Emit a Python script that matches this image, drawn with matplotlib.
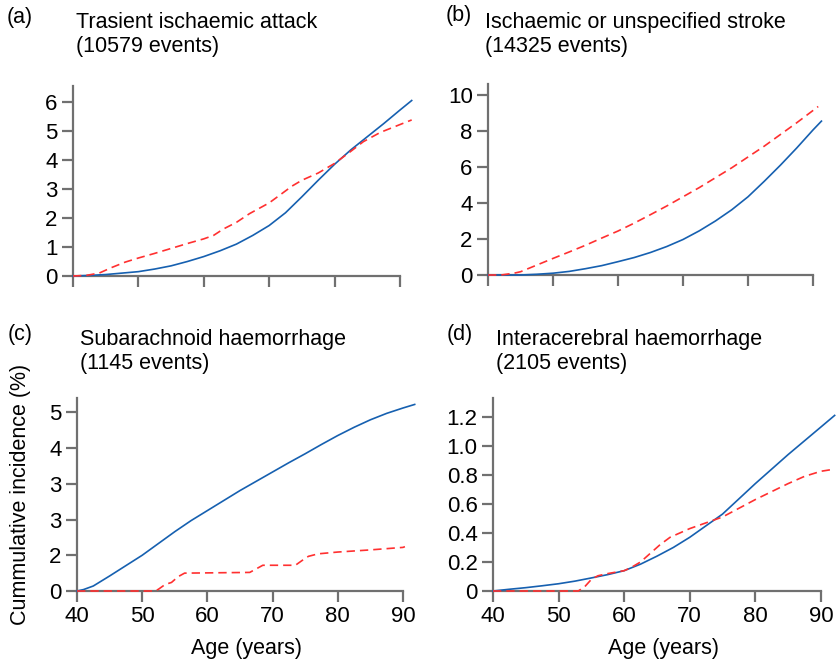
import matplotlib
matplotlib.use("Agg")
import matplotlib.pyplot as plt

plt.rcParams["font.family"] = ["Liberation Sans", "DejaVu Sans"]

# (a) Trasient ischaemic attack
a_blue_x = [40, 42.5, 45, 47.5, 50, 52.5, 55, 57.5, 60, 62.5, 65, 67.5, 70, 72.5, 75,
            77.5, 80, 82.5, 85, 87.5, 90, 91.8]
a_blue_y = [0, 0.02, 0.05, 0.1, 0.15, 0.24, 0.35, 0.5, 0.67, 0.87, 1.1, 1.40, 1.74, 2.18, 2.73,
            3.3, 3.85, 4.35, 4.8, 5.25, 5.72, 6.05]
a_red_x = [40, 42, 44, 46, 48, 50, 52.5, 55, 57.5, 60, 61.5, 63, 65, 67, 70, 72, 73.5, 75,
           77.5, 80, 82.5, 84.4, 87, 90, 91.8]
a_red_y = [0, 0.02, 0.1, 0.3, 0.48, 0.62, 0.78, 0.95, 1.12, 1.28, 1.40, 1.62, 1.85, 2.15, 2.52,
           2.85, 3.1, 3.3, 3.55, 3.88, 4.3, 4.63, 4.95, 5.22, 5.38]

# (b) Ischaemic or unspecified stroke
b_blue_x = [40, 45, 47.5, 50, 52.5, 55, 57.5, 60, 62.5, 65, 67.5, 70, 72.5, 75, 77.5, 80,
            82.5, 85, 87.5, 90, 91.3]
b_blue_y = [0, 0, 0.04, 0.1, 0.2, 0.35, 0.52, 0.74, 0.97, 1.25, 1.58, 1.97, 2.45, 3.0, 3.62, 4.34,
            5.2, 6.1, 7.05, 8.05, 8.54]
b_red_x = [40, 42, 44, 45, 47.5, 50, 52.5, 55, 57.5, 60, 62.5, 65, 67.5, 70, 72.5, 75, 77.5,
           80, 82.5, 85, 87.5, 90, 90.8]
b_red_y = [0, 0, 0.1, 0.18, 0.55, 0.92, 1.28, 1.65, 2.05, 2.44, 2.88, 3.35, 3.83, 4.34, 4.85, 5.4,
           5.95, 6.55, 7.15, 7.8, 8.45, 9.13, 9.35]

# (c) Subarachnoid haemorrhage (tick labels as printed in the source)
c_blue_x = [40, 41, 42.5, 45, 47.5, 50, 52.5, 55, 57.5, 60, 62.5, 65, 67.5, 70, 72.5, 75,
            77.5, 80, 82.5, 85, 87.5, 90, 91.8]
c_blue_y = [0, 0.04, 0.14, 0.42, 0.71, 1.0, 1.33, 1.66, 1.97, 2.25, 2.53, 2.81, 3.07, 3.33, 3.59,
            3.84, 4.1, 4.35, 4.58, 4.79, 4.97, 5.12, 5.22]
c_red_x = [40, 52, 52.5, 53.5, 54.5, 55.5, 56.5, 66.5, 67.5, 68.5, 73.5, 74.5, 75.5, 77, 80,
           85, 90, 90.3]
c_red_y = [0, 0, 0.05, 0.18, 0.24, 0.4, 0.5, 0.52, 0.62, 0.72, 0.72, 0.85, 0.97, 1.04, 1.09,
           1.15, 1.22, 1.24]
c_ticklabels = ["0", "2", "3", "3", "4", "5"]

# (d) Interacerebral haemorrhage
d_blue_x = [40, 42.5, 45, 47.5, 50, 52.5, 55, 57.5, 60, 62.5, 65, 67.5, 70, 72.5, 75, 77.5,
            80, 82.5, 85, 87.5, 90, 92.1]
d_blue_y = [0, 0.012, 0.023, 0.036, 0.05, 0.068, 0.09, 0.113, 0.14, 0.185, 0.24, 0.3, 0.37,
            0.45, 0.53, 0.635, 0.74, 0.84, 0.94, 1.035, 1.13, 1.21]
d_red_x = [40, 53, 54, 55, 56, 57.5, 60, 61, 62.5, 64, 65.5, 67, 68.5, 70, 72.5, 75, 77.5,
           80, 82.5, 85, 87.5, 90, 92.1]
d_red_y = [0, 0, 0.03, 0.08, 0.105, 0.12, 0.14, 0.16, 0.2, 0.26, 0.32, 0.37, 0.4, 0.43, 0.47,
           0.51, 0.57, 0.63, 0.685, 0.74, 0.79, 0.825, 0.84]
d_ticklabels = ["0", "0.2", "0.4", "0.6", "0.8", "1.0", "1.2"]

BLUE = "#1660b0"
RED = "#ff3030"
GREY = "#707070"

W, H = 837, 664
fig = plt.figure(figsize=(W / 100, H / 100), dpi=100)


def px_axes(left, bottom, right, top):
    return fig.add_axes([left / W, 1 - bottom / H, (right - left) / W, (bottom - top) / H])


def style(ax, ymax, yticks, show_x):
    ax.set_xlim(40, 92)
    ax.set_ylim(0, ymax)
    for s in ["top", "right"]:
        ax.spines[s].set_visible(False)
    for s in ["left", "bottom"]:
        ax.spines[s].set_color(GREY)
        ax.spines[s].set_linewidth(1.6)
    ax.spines["bottom"].set_bounds(40, 90)
    ax.set_xticks([40, 50, 60, 70, 80, 90])
    ax.set_yticks(yticks)
    ax.tick_params(length=8, width=1.6, color=GREY, labelsize=16, pad=3)
    if not show_x:
        ax.set_xticklabels([])


def draw(ax, bx, by, rx, ry):
    ax.plot(bx, by, color=BLUE, lw=1.2, clip_on=False, zorder=3)
    ax.plot(rx, ry, color=RED, lw=1.2, ls=(0, (5, 3)), clip_on=False, zorder=4)


ax_a = px_axes(73, 276, 413, 86)
draw(ax_a, a_blue_x, a_blue_y, a_red_x, a_red_y)
style(ax_a, 6.55, range(0, 7), False)

ax_b = px_axes(488, 275, 826, 84)
draw(ax_b, b_blue_x, b_blue_y, b_red_x, b_red_y)
style(ax_b, 10.6, range(0, 11, 2), False)

ax_c = px_axes(77, 591, 416, 398)
draw(ax_c, c_blue_x, c_blue_y, c_red_x, c_red_y)
style(ax_c, 5.4, range(0, 6), True)
ax_c.set_yticklabels(c_ticklabels)
ax_c.set_xlabel("Age (years)", fontsize=15.5, labelpad=8)
ax_c.set_ylabel("Cummulative incidence (%)", fontsize=15.5, labelpad=13)

ax_d = px_axes(493, 591, 834, 398)
draw(ax_d, d_blue_x, d_blue_y, d_red_x, d_red_y)
style(ax_d, 1.33, [0, 0.2, 0.4, 0.6, 0.8, 1.0, 1.2], True)
ax_d.set_yticklabels(d_ticklabels)
ax_d.set_xlabel("Age (years)", fontsize=15.5, labelpad=8)

panels = [
    ("(a)", 7, 17, "Trasient ischaemic attack\n(10579 events)", 76, 12),
    ("(b)", 446, 15, "Ischaemic or unspecified stroke\n(14325 events)", 485, 12),
    ("(c)", 8, 335, "Subarachnoid haemorrhage\n(1145 events)", 80, 329),
    ("(d)", 447, 335, "Interacerebral haemorrhage\n(2105 events)", 496, 329),
]
for tag, tx, ty, title, lx, ly in panels:
    fig.text(tx / W, 1 - ty / H, tag, fontsize=15.5, ha="left", va="center")
    fig.text(lx / W, 1 - ly / H, title, fontsize=15.5, ha="left", va="top", linespacing=1.2)

fig.savefig("out.png", dpi=100)
